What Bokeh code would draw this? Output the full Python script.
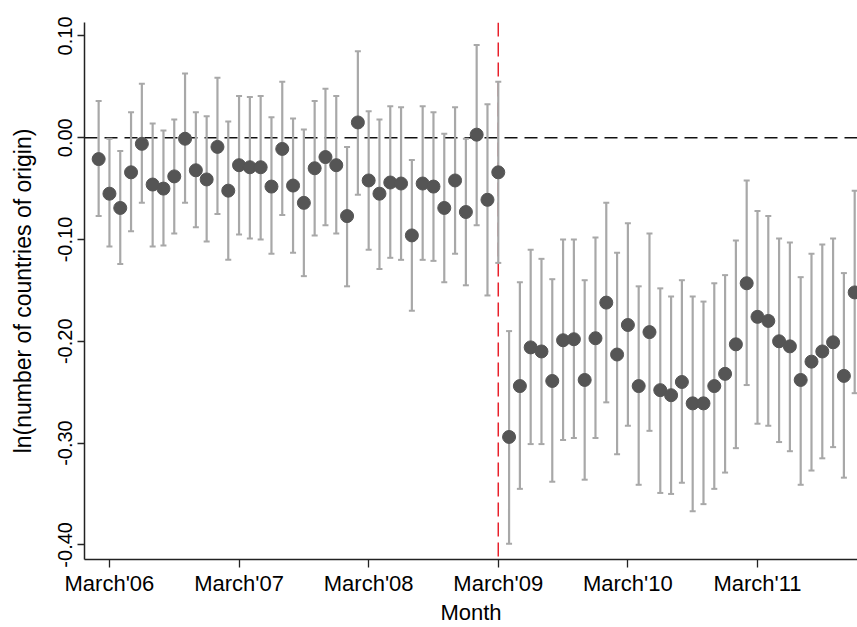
from bokeh.plotting import figure
from bokeh.models import ColumnDataSource, Whisker, TeeHead, Span, FixedTicker, PrintfTickFormatter, Range1d
from bokeh.embed import file_html
from bokeh.resources import INLINE

# month index relative to March 2006 (0 = March'06)
months = list(range(-1, 70))

estimate = [
    -0.021, -0.055, -0.069, -0.034, -0.006, -0.046, -0.050, -0.038, -0.001, -0.032,
    -0.041, -0.009, -0.052, -0.027, -0.029, -0.029, -0.048, -0.011, -0.047, -0.064,
    -0.030, -0.019, -0.027, -0.077, 0.015, -0.042, -0.055, -0.044, -0.045, -0.096,
    -0.045, -0.048, -0.069, -0.042, -0.073, 0.003, -0.061, -0.034, -0.294, -0.244,
    -0.206, -0.210, -0.239, -0.199, -0.198, -0.238, -0.197, -0.162, -0.213, -0.184,
    -0.244, -0.191, -0.248, -0.253, -0.240, -0.261, -0.261, -0.244, -0.232, -0.203,
    -0.143, -0.176, -0.180, -0.200, -0.205, -0.238, -0.220, -0.210, -0.201, -0.234,
    -0.152,
]
lower = [
    -0.077, -0.107, -0.124, -0.092, -0.064, -0.107, -0.106, -0.094, -0.064, -0.088,
    -0.102, -0.075, -0.120, -0.095, -0.099, -0.100, -0.114, -0.076, -0.113, -0.136,
    -0.096, -0.086, -0.094, -0.146, -0.056, -0.110, -0.129, -0.118, -0.120, -0.170,
    -0.120, -0.121, -0.142, -0.114, -0.145, -0.086, -0.155, -0.123, -0.399, -0.345,
    -0.301, -0.301, -0.338, -0.297, -0.295, -0.336, -0.295, -0.260, -0.311, -0.283,
    -0.341, -0.288, -0.349, -0.350, -0.339, -0.367, -0.360, -0.345, -0.329, -0.305,
    -0.243, -0.281, -0.283, -0.299, -0.308, -0.341, -0.327, -0.315, -0.304, -0.334,
    -0.251,
]
upper = [
    0.036, -0.001, -0.013, 0.025, 0.053, 0.014, 0.007, 0.018, 0.063, 0.025,
    0.021, 0.059, 0.016, 0.041, 0.040, 0.041, 0.020, 0.055, 0.019, 0.008,
    0.036, 0.048, 0.041, -0.009, 0.085, 0.026, 0.018, 0.031, 0.030, -0.022,
    0.031, 0.025, 0.004, 0.030, -0.001, 0.091, 0.033, 0.055, -0.190, -0.142,
    -0.110, -0.119, -0.139, -0.100, -0.100, -0.140, -0.098, -0.064, -0.113, -0.084,
    -0.146, -0.094, -0.148, -0.156, -0.140, -0.156, -0.161, -0.143, -0.135, -0.101,
    -0.042, -0.072, -0.077, -0.099, -0.103, -0.137, -0.114, -0.105, -0.099, -0.133,
    -0.052,
]

x_tick_positions = [0, 12, 24, 36, 48, 60]
x_tick_labels = ["March'06", "March'07", "March'08", "March'09", "March'10", "March'11"]
y_ticks = [0.10, 0.00, -0.10, -0.20, -0.30, -0.40]
break_month = 36

FONT = "Liberation Sans"

source = ColumnDataSource(data=dict(x=months, y=estimate, lo=lower, hi=upper))

p = figure(width=857, height=627, output_backend="svg", toolbar_location=None,
           x_range=Range1d(-2.31, 69.26), y_range=Range1d(-0.4144, 0.1132),
           min_border_top=22, min_border_right=0, min_border_left=84, min_border_bottom=40)
p.outline_line_color = None
p.xgrid.grid_line_color = None
p.ygrid.grid_line_color = None
p.background_fill_color = "white"
p.border_fill_color = "white"

zero = Span(location=0, dimension="width", line_color="#111111", line_width=1.6,
            line_dash="13 7", level="underlay")
vline = Span(location=break_month, dimension="height", line_color="#e8202a", line_width=1.5,
             line_dash="14 6", level="underlay")
p.add_layout(zero)
p.add_layout(vline)

p.scatter("x", "y", source=source, size=13, fill_color="#555555", line_color="#555555")

wh = Whisker(base="x", lower="lo", upper="hi", source=source,
             line_color="#a8a8a8", line_width=2.2,
             upper_head=TeeHead(size=6, line_color="#a8a8a8", line_width=2),
             lower_head=TeeHead(size=6, line_color="#a8a8a8", line_width=2))
p.add_layout(wh)

p.xaxis.ticker = FixedTicker(ticks=x_tick_positions)
p.xaxis.major_label_overrides = {t: l for t, l in zip(x_tick_positions, x_tick_labels)}
p.yaxis.ticker = FixedTicker(ticks=y_ticks)
p.yaxis.formatter = PrintfTickFormatter(format="%.2f")
p.yaxis.major_label_orientation = "vertical"

p.xaxis.axis_label = "Month"
p.yaxis.axis_label = "ln(number of countries of origin)"

for ax in (p.xaxis, p.yaxis):
    ax.axis_line_color = "#222222"
    ax.axis_line_width = 1.5
    ax.major_tick_line_color = "#222222"
    ax.major_tick_line_width = 1.3
    ax.minor_tick_line_color = None
    ax.major_tick_in = 0
    ax.major_label_text_font = FONT
    ax.major_label_text_color = "#000000"
    ax.axis_label_text_font = FONT
    ax.axis_label_text_font_style = "normal"
    ax.axis_label_text_color = "#000000"

p.xaxis.major_tick_out = 8
p.yaxis.major_tick_out = 7
p.xaxis.major_label_text_font_size = "22px"
p.yaxis.major_label_text_font_size = "20px"
p.xaxis.axis_label_text_font_size = "22px"
p.yaxis.axis_label_text_font_size = "23px"

p.xaxis.major_label_standoff = 3
p.xaxis.axis_label_standoff = 1
p.yaxis.major_label_standoff = 5
p.yaxis.axis_label_standoff = 20

open("out.html", "w").write(file_html(p, INLINE))
